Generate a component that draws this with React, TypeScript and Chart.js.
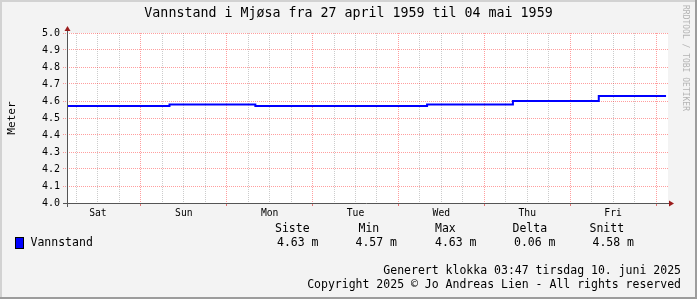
import React, { useEffect, useRef } from 'react';
import { Chart, registerables } from 'chart.js';

Chart.register(...registerables);

const TITLE = 'Vannstand i Mjøsa fra 27 april 1959 til 04 mai 1959';
const Y_LABEL = 'Meter';
const SERIES_NAME = 'Vannstand';
const UNIT = 'm';
const WATERMARK = 'RRDTOOL / TOBI OETIKER';

// x axis: hours since Saturday 00:00
const dayNames = ['Sat', 'Sun', 'Mon', 'Tue', 'Wed', 'Thu', 'Fri'];
const X_MIN = 3.35;
const X_MAX = 171.35;
const gridHours = [6, 12, 18, 24, 30, 36, 42, 48, 54, 60, 66, 72, 78, 84, 90, 96, 102, 108, 114, 120, 126, 132, 138, 144, 150, 156, 162, 168];

// readings (hour, level in metres)
const readingHours = [3.35, 32, 56, 80, 104, 128, 152, 170.8];
const levels = [4.57, 4.58, 4.57, 4.57, 4.58, 4.6, 4.63, 4.63];

const Y_MIN = 4.0;
const Y_MAX = 5.0;
const Y_STEP = 0.1;

const statHeaders = ['Siste', 'Min', 'Max', 'Delta', 'Snitt'];
const footerLines = [
  'Generert klokka 03:47 tirsdag 10. juni 2025',
  'Copyright 2025 © Jo Andreas Lien - All rights reserved',
];

const MONO = '"DejaVu Sans Mono", "Liberation Mono", monospace';

function computeStats(): number[] {
  const last = levels[levels.length - 1];
  const min = Math.min(...levels);
  const max = Math.max(...levels);
  let sum = 0;
  let tot = 0;
  for (let i = 0; i < levels.length - 1; i++) {
    const dt = readingHours[i + 1] - readingHours[i];
    sum += levels[i] * dt;
    tot += dt;
  }
  return [last, min, max, max - min, sum / tot];
}

const W = 697;
const H = 299;

const rrdPlugin = {
  id: 'rrdDecor',
  beforeDraw(chart: any) {
    const ctx = chart.ctx;
    const a = chart.chartArea;
    ctx.save();
    ctx.fillStyle = '#f3f3f3';
    ctx.fillRect(0, 0, W, H);
    // frame
    ctx.fillStyle = '#d2d2d2';
    ctx.fillRect(0, 0, W, 2);
    ctx.fillRect(0, 0, 2, H);
    ctx.fillStyle = '#9c9c9c';
    ctx.fillRect(0, H - 2, W, 2);
    ctx.fillRect(W - 2, 0, 2, H);
    // plot background
    ctx.fillStyle = '#ffffff';
    ctx.fillRect(a.left, a.top, a.right - a.left, a.bottom - a.top);
    ctx.restore();
  },
  afterDraw(chart: any) {
    const ctx = chart.ctx;
    const a = chart.chartArea;
    ctx.save();
    // axes
    ctx.strokeStyle = '#555555';
    ctx.lineWidth = 1;
    ctx.beginPath();
    ctx.moveTo(a.left + 0.5, a.bottom + 4);
    ctx.lineTo(a.left + 0.5, a.top - 3);
    ctx.moveTo(a.left - 4, a.bottom + 0.5);
    ctx.lineTo(a.right + 2, a.bottom + 0.5);
    ctx.stroke();
    ctx.fillStyle = '#9b1c1c';
    ctx.beginPath();
    ctx.moveTo(a.left + 0.5, a.top - 7);
    ctx.lineTo(a.left - 2.5, a.top - 2);
    ctx.lineTo(a.left + 3.5, a.top - 2);
    ctx.closePath();
    ctx.fill();
    ctx.beginPath();
    ctx.moveTo(a.right + 6, a.bottom + 0.5);
    ctx.lineTo(a.right + 1, a.bottom - 2.5);
    ctx.lineTo(a.right + 1, a.bottom + 3.5);
    ctx.closePath();
    ctx.fill();

    // title
    ctx.fillStyle = '#000';
    ctx.font = `13.3px ${MONO}`;
    ctx.textAlign = 'center';
    ctx.textBaseline = 'middle';
    ctx.fillText(TITLE, W / 2, 14);

    // watermark
    ctx.save();
    ctx.translate(685, 5);
    ctx.rotate(Math.PI / 2);
    ctx.fillStyle = '#b4b4b4';
    ctx.font = `8px ${MONO}`;
    ctx.textAlign = 'left';
    ctx.textBaseline = 'middle';
    ctx.fillText(WATERMARK, 0, 0);
    ctx.restore();

    // legend
    ctx.font = `11.5px ${MONO}`;
    ctx.textAlign = 'left';
    ctx.textBaseline = 'middle';
    ctx.fillStyle = '#000';
    const headerX = [275, 358.5, 435, 512.5, 589.5];
    statHeaders.forEach((h, i) => ctx.fillText(h, headerX[i], 229));
    ctx.fillStyle = '#0000ff';
    ctx.fillRect(16, 238, 7, 10);
    ctx.strokeStyle = '#000';
    ctx.strokeRect(15.5, 237.5, 8, 11);
    ctx.fillStyle = '#000';
    ctx.fillText(SERIES_NAME, 30.5, 243);
    const stats = computeStats();
    const valueX = [277, 355.5, 435, 514, 592.5];
    stats.forEach((v, i) => ctx.fillText(`${v.toFixed(2)} ${UNIT}`, valueX[i], 243));

    // footer
    ctx.textAlign = 'right';
    footerLines.forEach((t, i) => ctx.fillText(t, 681, 271 + i * 14.5));
    ctx.restore();
  },
};

const MAJOR = 'rgba(255, 0, 0, 0.38)';
const MINOR = 'rgba(120, 120, 120, 0.38)';

export default function App() {
  const ref = useRef<HTMLCanvasElement | null>(null);
  useEffect(() => {
    document.body.style.margin = '0';
    const canvas = ref.current!;
    const yTicks: number[] = [];
    for (let v = Y_MIN; v <= Y_MAX + 1e-9; v += Y_STEP) yTicks.push(Math.round(v * 10) / 10);
    const chart = new Chart(canvas, {
      type: 'line',
      data: {
        datasets: [
          {
            label: SERIES_NAME,
            data: readingHours.map((h, i) => ({ x: h, y: levels[i] })),
            borderColor: '#0000ff',
            borderWidth: 2,
            stepped: 'before',
            pointRadius: 0,
            fill: false,
          },
        ],
      },
      options: {
        animation: false,
        responsive: false,
        devicePixelRatio: 1,
        layout: { padding: { left: 0, right: 29, top: 33, bottom: 76 } },
        plugins: { legend: { display: false }, title: { display: false }, tooltip: { enabled: false } },
        scales: {
          x: {
            type: 'linear',
            min: X_MIN,
            max: X_MAX,
            afterBuildTicks: (scale: any) => {
              scale.ticks = gridHours.map((v) => ({ value: v }));
            },
            afterFit: (scale: any) => {
              scale.height = 20;
            },
            ticks: {
              autoSkip: false,
              maxRotation: 0,
              padding: 2,
              color: '#000',
              font: { family: MONO, size: 9.7 },
              callback: (v: any) => {
                const n = Number(v);
                return n % 24 === 12 ? dayNames[Math.floor(n / 24)] : '';
              },
            },
            grid: {
              color: (c: any) => (c.tick && c.tick.value % 24 === 0 ? MAJOR : MINOR),
              tickColor: (c: any) => (c.tick && c.tick.value % 24 === 0 ? 'rgba(220,60,60,0.7)' : 'rgba(0,0,0,0)'),
              tickLength: 3,
              lineWidth: 1,
              tickBorderDash: [],
            },
            border: { display: false, dash: [1, 1] },
          },
          y: {
            type: 'linear',
            min: Y_MIN,
            max: Y_MAX,
            afterBuildTicks: (scale: any) => {
              scale.ticks = yTicks.map((v) => ({ value: v }));
            },
            afterFit: (scale: any) => {
              scale.width = 67;
            },
            ticks: {
              padding: 3,
              color: '#000',
              font: { family: MONO, size: 10 },
              callback: (v: any) => Number(v).toFixed(1),
            },
            title: {
              display: true,
              text: Y_LABEL,
              color: '#000',
              font: { family: MONO, size: 11.1 },
              padding: { top: 5, bottom: 0 },
            },
            grid: {
              color: MAJOR,
              tickColor: MAJOR,
              tickLength: 4,
              lineWidth: 1,
              tickBorderDash: [1, 1],
            },
            border: { display: false, dash: [1, 1] },
          },
        },
      },
      plugins: [rrdPlugin],
    } as any);
    return () => chart.destroy();
  }, []);
  return <canvas ref={ref} width={W} height={H} style={{ display: 'block', width: W, height: H }} />;
}
